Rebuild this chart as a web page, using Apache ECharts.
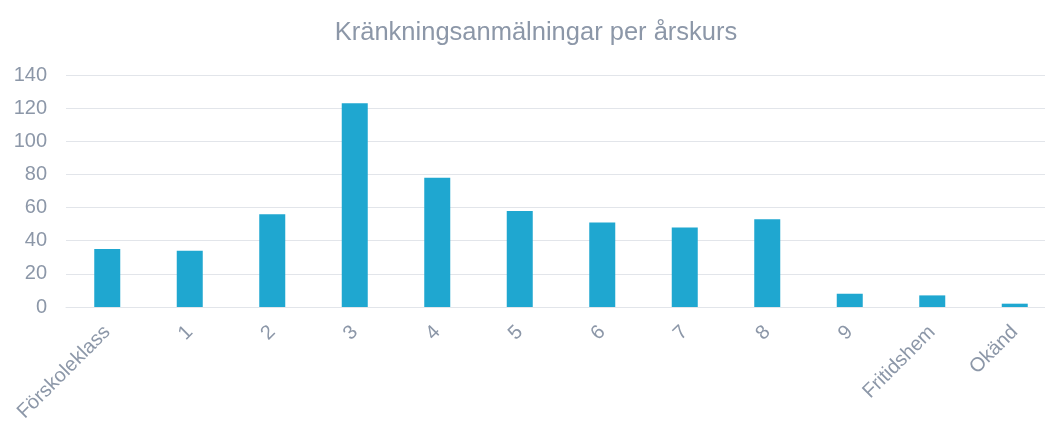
<!DOCTYPE html>
<html>
<head>
<meta charset="utf-8">
<script src="https://cdn.jsdelivr.net/npm/echarts@6/dist/echarts.min.js"></script>
<style>
  html, body { margin: 0; padding: 0; background: #fff; overflow: hidden; }
  /* the last category band runs past the right edge of the window, like in the original */
  #chart { width: 1056px; height: 421px; }
</style>
</head>
<body>
<div id="chart"></div>
<script>
// årskurser och antal anmälningar
const categories = ['Förskoleklass', '1', '2', '3', '4', '5', '6', '7', '8', '9', 'Fritidshem', 'Okänd'];
const values = [35, 34, 56, 123, 78, 58, 51, 48, 53, 8, 7, 2];
const yTicks = { min: 0, max: 140, interval: 20 };

const textColor = '#8c97a8';
const lineColor = '#e2e5ea';
const font = 'Liberation Sans, Arial, sans-serif';

const chart = echarts.init(document.getElementById('chart'));
chart.setOption({
  animation: false,
  title: {
    text: 'Kränkningsanmälningar per årskurs',
    left: 531,
    textAlign: 'center',
    top: 15,
    textStyle: {
      color: textColor,
      fontSize: 25.5,
      fontWeight: 'normal',
      fontFamily: font
    }
  },
  grid: {
    left: 66,
    right: 0,
    top: 75,
    bottom: 114,
    outerBoundsMode: 'none'
  },
  xAxis: {
    type: 'category',
    data: categories,
    axisLine: { lineStyle: { color: lineColor, width: 1 } },
    axisTick: { show: false },
    axisLabel: {
      rotate: 45,
      interval: 0,
      margin: 22,
      color: textColor,
      fontSize: 20,
      fontFamily: font
    }
  },
  yAxis: {
    type: 'value',
    min: yTicks.min,
    max: yTicks.max,
    interval: yTicks.interval,
    axisLine: { show: false },
    axisTick: { show: false },
    splitLine: { lineStyle: { color: lineColor, width: 1 } },
    axisLabel: {
      margin: 19,
      color: textColor,
      fontSize: 20,
      fontFamily: font
    }
  },
  series: [{
    type: 'bar',
    data: values,
    barWidth: 26,
    itemStyle: { color: '#1fa7d0' }
  }]
});
</script>
</body>
</html>
